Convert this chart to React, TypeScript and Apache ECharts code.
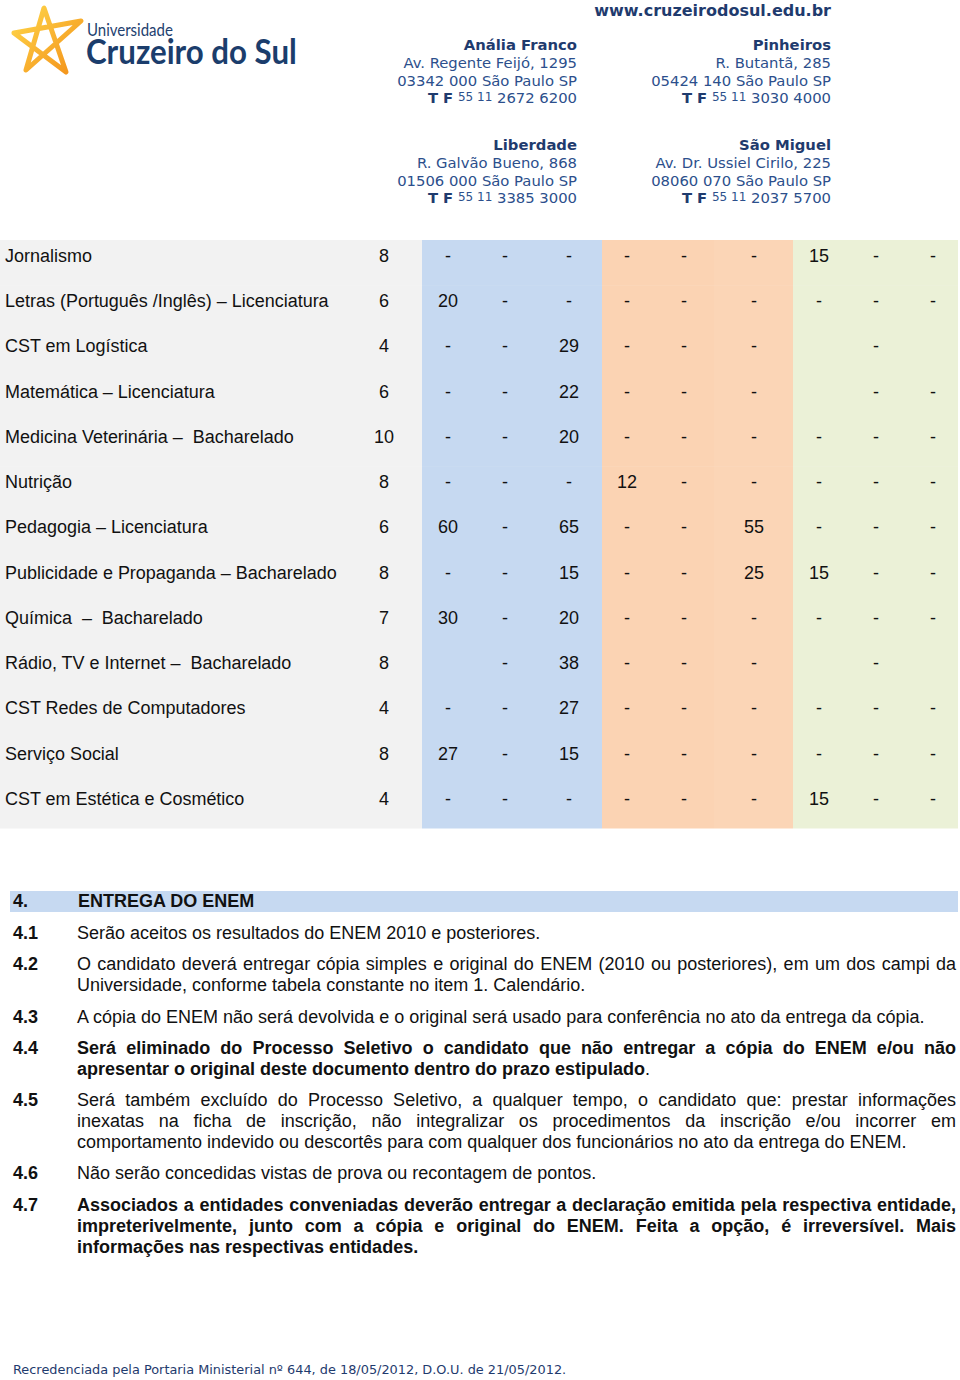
import React, { useEffect, useRef } from "react";
import * as echarts from "echarts";

// ---------------- DATA ----------------
const courses = [
  "Jornalismo",
  "Letras (Português /Inglês) – Licenciatura",
  "CST em Logística",
  "Matemática – Licenciatura",
  "Medicina Veterinária –  Bacharelado",
  "Nutrição",
  "Pedagogia – Licenciatura",
  "Publicidade e Propaganda – Bacharelado",
  "Química  –  Bacharelado",
  "Rádio, TV e Internet –  Bacharelado",
  "CST Redes de Computadores",
  "Serviço Social",
  "CST em Estética e Cosmético",
];
const durations = ["8", "6", "4", "6", "10", "8", "6", "8", "7", "8", "4", "8", "4"];
const offersBlue = [
  ["-", "-", "-"], ["20", "-", "-"], ["-", "-", "29"], ["-", "-", "22"], ["-", "-", "20"],
  ["-", "-", "-"], ["60", "-", "65"], ["-", "-", "15"], ["30", "-", "20"], ["", "-", "38"],
  ["-", "-", "27"], ["27", "-", "15"], ["-", "-", "-"],
];
const offersOrange = [
  ["-", "-", "-"], ["-", "-", "-"], ["-", "-", "-"], ["-", "-", "-"], ["-", "-", "-"],
  ["12", "-", "-"], ["-", "-", "55"], ["-", "-", "25"], ["-", "-", "-"], ["-", "-", "-"],
  ["-", "-", "-"], ["-", "-", "-"], ["-", "-", "-"],
];
const offersGreen = [
  ["15", "-", "-"], ["-", "-", "-"], ["", "-", ""], ["", "-", "-"], ["-", "-", "-"],
  ["-", "-", "-"], ["-", "-", "-"], ["15", "-", "-"], ["-", "-", "-"], ["", "-", ""],
  ["-", "-", "-"], ["-", "-", "-"], ["15", "-", "-"],
];

const websiteText = "www.cruzeirodosul.edu.br";
const campusNames = ["Anália Franco", "Pinheiros", "Liberdade", "São Miguel"];
const campusStreets = ["Av. Regente Feijó, 1295", "R. Butantã, 285", "R. Galvão Bueno, 868", "Av. Dr. Ussiel Cirilo, 225"];
const campusCities = ["03342 000 São Paulo SP", "05424 140 São Paulo SP", "01506 000 São Paulo SP", "08060 070 São Paulo SP"];
const campusPhones = ["2672 6200", "3030 4000", "3385 3000", "2037 5700"];

const sectionNumber = "4.";
const sectionTitle = "ENTREGA DO ENEM";
const itemNumbers = ["4.1", "4.2", "4.3", "4.4", "4.5", "4.6", "4.7"];
const itemLines = [
  ["Serão aceitos os resultados do ENEM 2010 e posteriores."],
  [
    "O candidato deverá entregar cópia simples e original do ENEM (2010 ou posteriores), em um dos campi da",
    "Universidade, conforme tabela constante no item 1. Calendário.",
  ],
  ["A cópia do ENEM não será devolvida e o original será usado para conferência no ato da entrega da cópia."],
  [
    "Será eliminado do Processo Seletivo o candidato que não entregar a cópia do ENEM e/ou não",
    "apresentar o original deste documento dentro do prazo estipulado",
  ],
  [
    "Será também excluído do Processo Seletivo, a qualquer tempo, o candidato que: prestar informações",
    "inexatas na ficha de inscrição, não integralizar os procedimentos da inscrição e/ou incorrer em",
    "comportamento indevido ou descortês para com qualquer dos funcionários no ato da entrega do ENEM.",
  ],
  ["Não serão concedidas vistas de prova ou recontagem de pontos."],
  [
    "Associados a entidades conveniadas deverão entregar a declaração emitida pela respectiva entidade,",
    "impreterivelmente, junto com a cópia e original do ENEM. Feita a opção, é irreversível. Mais",
    "informações nas respectivas entidades.",
  ],
];
const itemBold = [false, false, false, true, false, false, true];
const itemPlainSuffix = ["", "", "", ".", "", "", ""];
const footerText = "Recredenciada pela Portaria Ministerial nº 644, de 18/05/2012, D.O.U. de 21/05/2012.";
const logoSmall = "Universidade";
const logoBig = "Cruzeiro do Sul";

// ---------------- LAYOUT ----------------
const W = 960;
const H = 1380;
const ARIAL = "Liberation Sans";
const VERDANA = "DejaVu Sans";
const NAVY = "#1f3b6e";
const BLUE_TXT = "#2c4f8c";
const L = {
  gridTop: 240,
  gridHeight: 588,
  textOffset: 16,
  labelX: 5,
  durationX: 384,
  colX: [448, 505, 569, 627, 684, 754, 819, 876, 933],
  bands: [
    { x0: 0, x1: 422, color: "#f2f2f2" },
    { x0: 422, x1: 602, color: "#c6d9f1" },
    { x0: 602, x1: 714, color: "#fbd3b3" },
    { x0: 714, x1: 793, color: "#fbd5b6" },
    { x0: 793, x1: 958, color: "#ebf1d7" },
  ],
  colLeftRight: 577,
  colRightRight: 831,
  blockTops: [44, 144],
  lineStep: 18,
  itemY: [933, 964, 1017, 1048, 1100, 1173, 1205],
  itemStep: 21,
  numX: 13,
  textX: 77,
  textRight: 956,
};

const canvas = typeof document !== "undefined" ? document.createElement("canvas") : null;
const ctx = canvas ? canvas.getContext("2d") : null;
function measure(text: string, size: number, weight: string, family: string) {
  if (!ctx) return text.length * size * 0.5;
  ctx.font = `${weight} ${size}px "${family}"`;
  return ctx.measureText(text).width;
}
function fitSize(text: string, weight: string, family: string, target: number) {
  const w = measure(text, 20, weight, family);
  return (20 * target) / w;
}

export default function App() {
  const ref = useRef<HTMLDivElement>(null);
  useEffect(() => {
    document.body.style.margin = "0";
    const chart = echarts.init(ref.current!, null, { renderer: "svg" });

    const tableSize = Math.min(19, Math.max(16, fitSize(courses[7], "normal", ARIAL, 332)));
    const bodySize = Math.min(18, Math.max(15, fitSize(itemLines[2][0], "normal", ARIAL, 850)));

    // logo star
    const starPath = "M44 8 L26 70 L81 21 L14 33 L66 72 Z";
    try {
      echarts.graphic.registerShape("logoStar", (echarts.graphic as any).extendPath(starPath, {}));
    } catch (e) {}

    const graphics: any[] = [];
    graphics.push({
      type: "logoStar",
      x: 0,
      y: 0,
      style: {
        fill: "none",
        stroke: new echarts.graphic.LinearGradient(0, 0, 1, 1, [
          { offset: 0, color: "#ffd84a" },
          { offset: 1, color: "#f39019" },
        ]),
        lineWidth: 5,
        lineJoin: "round",
      },
    });
    const smallW = measure(logoSmall, 17, "normal", "Lato");
    graphics.push({
      type: "text",
      x: 87,
      y: 29,
      scaleX: 86 / smallW,
      style: { text: logoSmall, fontFamily: "Lato", fontSize: 17, fill: "#1e416f", verticalAlign: "middle" },
    });
    const bigW = measure(logoBig, 35, "bold", "Lato");
    graphics.push({
      type: "text",
      x: 86,
      y: 50,
      scaleX: 211 / bigW,
      style: { text: logoBig, fontFamily: "Lato", fontWeight: "bold", fontSize: 35, fill: "#1b3d6c", verticalAlign: "middle" },
    });

    graphics.push({
      type: "text",
      x: L.colRightRight,
      y: 10,
      style: {
        text: websiteText, fontFamily: VERDANA, fontWeight: "bold", fontSize: 16,
        fill: NAVY, align: "right", verticalAlign: "middle",
      },
    });

    const hdrSize = 14.8;
    campusNames.forEach((name, i) => {
      const xr = i % 2 === 0 ? L.colLeftRight : L.colRightRight;
      const top = L.blockTops[Math.floor(i / 2)];
      const base = { fontFamily: VERDANA, fontSize: hdrSize, align: "right", verticalAlign: "middle" };
      graphics.push({ type: "text", x: xr, y: top, style: { ...base, text: name, fontWeight: "bold", fill: NAVY } });
      graphics.push({ type: "text", x: xr, y: top + L.lineStep, style: { ...base, text: campusStreets[i], fill: BLUE_TXT } });
      graphics.push({ type: "text", x: xr, y: top + 2 * L.lineStep, style: { ...base, text: campusCities[i], fill: BLUE_TXT } });
      graphics.push({
        type: "text",
        x: xr,
        y: top + 3 * L.lineStep - 1,
        style: {
          ...base,
          text: `{b|T F} {s|55 11} {n|${campusPhones[i]}}`,
          rich: {
            b: { fontFamily: VERDANA, fontWeight: "bold", fontSize: hdrSize, fill: NAVY },
            s: { fontFamily: VERDANA, fontSize: 12, fill: BLUE_TXT },
            n: { fontFamily: VERDANA, fontSize: hdrSize, fill: BLUE_TXT },
          },
        },
      });
    });

    // section header band
    graphics.push({ type: "rect", shape: { x: 10, y: 891, width: 948, height: 21 }, style: { fill: "#c6d9f1" } });
    graphics.push({
      type: "text", x: L.numX, y: 901,
      style: { text: sectionNumber, fontFamily: ARIAL, fontWeight: "bold", fontSize: bodySize, fill: "#111", verticalAlign: "middle" },
    });
    graphics.push({
      type: "text", x: 78, y: 901,
      style: { text: sectionTitle, fontFamily: ARIAL, fontWeight: "bold", fontSize: bodySize, fill: "#111", verticalAlign: "middle" },
    });

    // items
    itemLines.forEach((lines, i) => {
      const weight = itemBold[i] ? "bold" : "normal";
      const y0 = L.itemY[i];
      graphics.push({
        type: "text", x: L.numX, y: y0,
        style: { text: itemNumbers[i], fontFamily: ARIAL, fontWeight: "bold", fontSize: bodySize, fill: "#111", verticalAlign: "middle" },
      });
      lines.forEach((line, j) => {
        const y = y0 + j * L.itemStep;
        const isLast = j === lines.length - 1;
        if (isLast) {
          const suffix = itemPlainSuffix[i];
          graphics.push({
            type: "text", x: L.textX, y,
            style: suffix
              ? {
                  text: `{m|${line}}{p|${suffix}}`,
                  verticalAlign: "middle",
                  rich: {
                    m: { fontFamily: ARIAL, fontWeight: weight, fontSize: bodySize, fill: "#111" },
                    p: { fontFamily: ARIAL, fontWeight: "normal", fontSize: bodySize, fill: "#111" },
                  },
                }
              : { text: line, fontFamily: ARIAL, fontWeight: weight, fontSize: bodySize, fill: "#111", verticalAlign: "middle" },
          });
        } else {
          const words = line.split(" ");
          const widths = words.map((w) => measure(w, bodySize, weight, ARIAL));
          const total = widths.reduce((a, b) => a + b, 0);
          const gap = (L.textRight - L.textX - total) / (words.length - 1);
          let x = L.textX;
          words.forEach((w, k) => {
            graphics.push({
              type: "text", x, y,
              style: { text: w, fontFamily: ARIAL, fontWeight: weight, fontSize: bodySize, fill: "#111", verticalAlign: "middle" },
            });
            x += widths[k] + gap;
          });
        }
      });
    });

    const footSize = fitSize(footerText, "normal", VERDANA, 554);
    graphics.push({
      type: "text", x: 13, y: 1369,
      style: { text: footerText, fontFamily: VERDANA, fontSize: footSize, fill: NAVY, verticalAlign: "middle" },
    });

    const rowData = courses.map((_, i) => [0, i]);

    const option: any = {
      animation: false,
      backgroundColor: "#ffffff",
      grid: { left: 0, top: L.gridTop, width: W, height: L.gridHeight, show: false },
      xAxis: { type: "value", min: 0, max: W, show: false },
      yAxis: { type: "category", data: courses, inverse: true, show: false },
      series: [
        {
          type: "custom",
          data: rowData,
          encode: { x: 0, y: 1 },
          renderItem: (params: any, api: any) => {
            const row = api.value(1) as number;
            const c = api.coord([0, row]);
            const h = api.size([0, 1])[1];
            const top = c[1] - h / 2;
            const ty = top + L.textOffset;
            const px = (v: number) => api.coord([v, row])[0];
            const children: any[] = [];
            L.bands.forEach((b) => {
              children.push({
                type: "rect",
                shape: { x: px(b.x0), y: top, width: px(b.x1) - px(b.x0), height: h + 0.6 },
                style: { fill: b.color },
              });
            });
            const ts = { fontFamily: ARIAL, fontSize: tableSize, fill: "#111", verticalAlign: "middle" };
            children.push({ type: "text", x: px(L.labelX), y: ty, style: { ...ts, text: courses[row], align: "left" } });
            children.push({ type: "text", x: px(L.durationX), y: ty, style: { ...ts, text: durations[row], align: "center" } });
            const vals = [...offersBlue[row], ...offersOrange[row], ...offersGreen[row]];
            vals.forEach((v, k) => {
              if (!v) return;
              children.push({ type: "text", x: px(L.colX[k]), y: ty, style: { ...ts, text: v, align: "center" } });
            });
            return { type: "group", children };
          },
        },
      ],
      graphic: graphics,
    };
    chart.setOption(option);
    return () => chart.dispose();
  }, []);
  return (
    <div
      ref={ref}
      style={{ position: "absolute", left: 0, top: 0, width: W, height: H, background: "#fff" }}
    />
  );
}
